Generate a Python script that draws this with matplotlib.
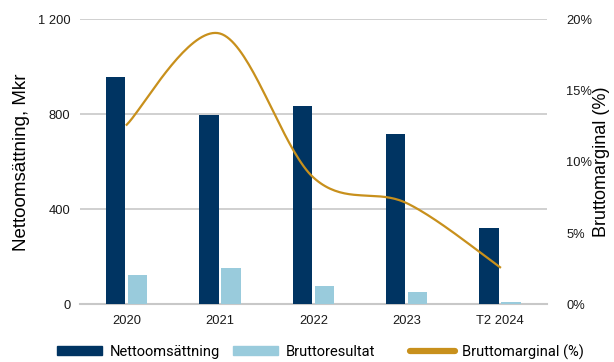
import numpy as np
import matplotlib
matplotlib.use("Agg")
import matplotlib.pyplot as plt
from matplotlib.patches import Patch
from matplotlib.lines import Line2D

# Nyckeltal per period
perioder = ["2020", "2021", "2022", "2023", "T2 2024"]
nettoomsattning = [956, 797, 835, 718, 320]      # Mkr
bruttoresultat = [122, 153, 75, 52, 8]           # Mkr
bruttomarginal = [12.6, 19.0, 8.9, 7.1, 2.6]     # %

navy = "#003462"
ljusbla = "#99cbdc"
guld = "#c8901c"
grid_grey = "#c8c8c8"

plt.rcParams["font.family"] = ["Liberation Sans", "DejaVu Sans"]


def mjuk_kurva(x, y, steg=40):
    # Catmull-Rom via Bezier-segment, som en utjämnad linje i kalkylark
    x = np.asarray(x, float)
    y = np.asarray(y, float)
    p = np.column_stack([x, y])
    p = np.vstack([p[0], p, p[-1]])
    xs, ys = [], []
    t = np.linspace(0, 1, steg)
    for i in range(1, len(p) - 2):
        p0, p1, p2, p3 = p[i - 1], p[i], p[i + 1], p[i + 2]
        c1 = p1 + (p2 - p0) / 6
        c2 = p2 - (p3 - p1) / 6
        b = ((1 - t) ** 3)[:, None] * p1 + (3 * (1 - t) ** 2 * t)[:, None] * c1 \
            + (3 * (1 - t) * t ** 2)[:, None] * c2 + (t ** 3)[:, None] * p2
        xs.extend(b[:, 0])
        ys.extend(b[:, 1])
    return np.array(xs), np.array(ys)


fig = plt.figure(figsize=(6.14, 3.62), dpi=100)
ax = fig.add_axes([0.1303, 0.1594, 0.7601, 0.7873])
ax2 = ax.twinx()

x = np.arange(len(perioder))
bw = 0.207
ax.bar(x - 0.118, nettoomsattning, width=bw, color=navy, zorder=3)
ax.bar(x + 0.118, bruttoresultat, width=bw, color=ljusbla, zorder=3)

ax.set_xlim(-0.5, len(perioder) - 0.5)
ax.set_ylim(0, 1200)
ax.set_yticks([0, 400, 800, 1200])
ax.set_yticklabels(["0", "400", "800", "1 200"])
ax.yaxis.grid(True, color=grid_grey, lw=1.2, zorder=0)
ax.set_axisbelow(True)
for s in ["top", "right", "left"]:
    ax.spines[s].set_visible(False)
ax.spines["bottom"].set_color(grid_grey)
ax.spines["bottom"].set_linewidth(1.5)
ax.set_xticks(x)
ax.set_xticklabels(perioder)
ax.tick_params(axis="both", length=0, labelsize=9.3, colors="#1a1a1a")
ax.tick_params(axis="x", pad=8)
ax.tick_params(axis="y", pad=7)
ax.set_ylabel("Nettoomsättning, Mkr", fontsize=13.5)
ax.yaxis.set_label_coords(-0.108, 0.5)

kx, ky = mjuk_kurva(x, bruttomarginal)
ax2.plot(kx, ky, color=guld, lw=1.6, zorder=4)
ax2.set_ylim(0, 20)
ax2.set_yticks([0, 5, 10, 15, 20])
ax2.set_yticklabels(["0%", "5%", "10%", "15%", "20%"])
ax2.tick_params(axis="y", length=0, labelsize=9.3, colors="#1a1a1a", pad=14)
for s in ["top", "right", "left", "bottom"]:
    ax2.spines[s].set_visible(False)
ax2.set_ylabel("Bruttomarginal (%)", fontsize=13)
ax2.yaxis.set_label_coords(1.1, 0.5)

# legend: three separate entries placed along the bottom edge
poster = [
    (Patch(color=navy, label="Nettoomsättning"), 57),
    (Patch(color=ljusbla, label="Bruttoresultat"), 233),
    (Line2D([0], [0], color=guld, lw=4.5, solid_capstyle="round", label="Bruttomarginal (%)"), 410),
]
for h, xpix in poster:
    leg = fig.legend(handles=[h], loc="center left", bbox_to_anchor=(xpix / 614, 0.028),
                     frameon=False, handlelength=3.1, handleheight=0.6, handletextpad=0.5,
                     borderpad=0, borderaxespad=0,
                     prop={"family": ["Roboto", "DejaVu Sans"], "size": 10.5})

fig.savefig("out.png", dpi=100)
